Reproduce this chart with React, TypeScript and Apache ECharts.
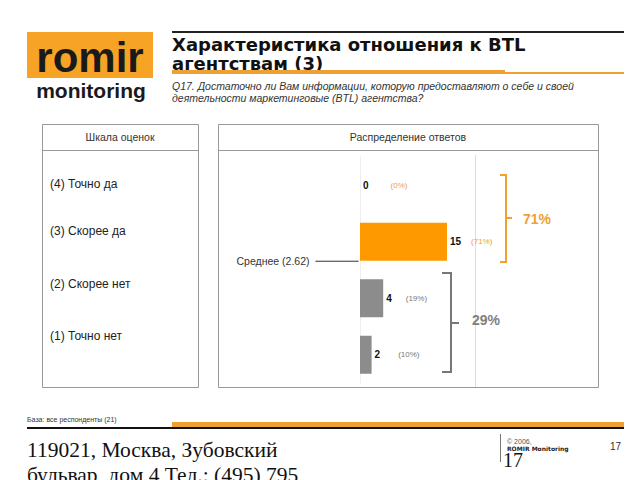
import React, { useEffect, useRef } from "react";
import * as echarts from "echarts";

const categories = ["(4) Точно да", "(3) Скорее да", "(2) Скорее нет", "(1) Точно нет"];
const counts = [0, 15, 4, 2];
const percents = [0, 71, 19, 10];
const meanValue = 2.62;
const groupTop = "71%";
const groupBottom = "29%";
const title = ["Характеристика отношения к BTL", "агентствам (3)"];
const subtitle = [
  "Q17. Достаточно ли Вам информации, которую предоставляют о себе и своей",
  "деятельности маркетинговые (BTL) агентства?",
];

const ORANGE = "#FF9900";
const LORANGE = "#F0A030";
const GRAY = "#8C8C8C";

export default function App() {
  const ref = useRef<HTMLDivElement>(null);
  useEffect(() => {
    const chart = echarts.init(ref.current!, null, { renderer: "svg" });
    const gaps = [22, 10, 14, 18];
    const sans = "Liberation Sans, Arial, sans-serif";
    const serif = "Liberation Serif, Times New Roman, serif";
    const rowY = [184, 231, 284, 336];
    const option: any = {
      animation: false,
      backgroundColor: "#fff",
      grid: [
        { left: 360, top: 157, width: 116, height: 226, show: false },
        { left: 316, top: 155, width: 42, height: 226, show: false },
      ],
      xAxis: [
        { type: "value", gridIndex: 0, min: 0, max: 20, show: false },
        { type: "value", gridIndex: 1, min: 0, max: 1, show: false },
      ],
      yAxis: [
        {
          type: "category",
          gridIndex: 0,
          inverse: true,
          data: categories,
          axisLabel: { show: false },
          axisTick: { show: false },
          axisLine: { show: true, lineStyle: { color: "#eeeeee" } },
        },
        { type: "value", gridIndex: 1, min: 0.5, max: 4.5, show: false },
      ],
      series: [
        {
          type: "bar",
          xAxisIndex: 0,
          yAxisIndex: 0,
          barWidth: 38,
          data: counts.map((v, i) => ({
            value: v,
            itemStyle: { color: i < 2 ? ORANGE : GRAY },
            label: {
              show: true,
              position: "right",
              distance: 3,
              formatter: () => `{v|${v}}{p|(${percents[i]}%)}`,
              rich: {
                v: { fontFamily: sans, fontWeight: "bold", fontSize: 10, color: "#111" },
                p: {
                  fontFamily: sans,
                  fontSize: 8,
                  color: i < 2 ? LORANGE : "#777",
                  padding: [0, 0, 0, gaps[i]],
                },
              },
            },
          })),
        },
        {
          type: "line",
          xAxisIndex: 1,
          yAxisIndex: 1,
          symbol: "circle",
          symbolSize: 1,
          lineStyle: { color: "#333", width: 1 },
          itemStyle: { color: "#333" },
          data: [
            {
              value: [0, meanValue],
              label: {
                show: true,
                position: "left",
                distance: 6,
                formatter: `Среднее (${meanValue})`,
                fontFamily: sans,
                fontSize: 10.5,
                color: "#333",
              },
            },
            { value: [1, meanValue] },
          ],
        },
      ],
      graphic: [
        // logo
        { type: "rect", shape: { x: 27, y: 32, width: 126, height: 46 }, style: { fill: "#F7A326" } },
        { type: "text", x: 90, y: 57, style: { text: "romir", fontFamily: sans, fontWeight: "bold", fontSize: 42, fill: "#1a1a1a", align: "center", verticalAlign: "middle" } },
        { type: "text", x: 91, y: 90, style: { text: "monitoring", fontFamily: sans, fontWeight: "bold", fontSize: 21, fill: "#1a1a1a", align: "center", verticalAlign: "middle" } },
        // title
        { type: "rect", shape: { x: 172, y: 31, width: 452, height: 2 }, style: { fill: "#222" } },
        { type: "text", x: 172, y: 35, style: { text: title.join("\n"), fontFamily: "DejaVu Sans, sans-serif", fontWeight: "bold", fontSize: 18, lineHeight: 19, fill: "#111", verticalAlign: "top" } },
        { type: "rect", shape: { x: 172, y: 70, width: 333, height: 4 }, style: { fill: "#F0A030" } },
        { type: "rect", shape: { x: 505, y: 72, width: 119, height: 2 }, style: { fill: "#F0A030" } },
        { type: "text", x: 172, y: 80, style: { text: subtitle.join("\n"), fontFamily: sans, fontStyle: "italic", fontSize: 10.5, lineHeight: 12, fill: "#333", verticalAlign: "top" } },
        // panels
        { type: "rect", shape: { x: 42.5, y: 124.5, width: 156, height: 263 }, style: { fill: "none", stroke: "#999", lineWidth: 1 } },
        { type: "line", shape: { x1: 42.5, y1: 150.5, x2: 198.5, y2: 150.5 }, style: { stroke: "#999", lineWidth: 1 } },
        { type: "rect", shape: { x: 218.5, y: 124.5, width: 380, height: 263 }, style: { fill: "none", stroke: "#999", lineWidth: 1 } },
        { type: "line", shape: { x1: 218.5, y1: 150.5, x2: 598.5, y2: 150.5 }, style: { stroke: "#999", lineWidth: 1 } },
        { type: "text", x: 120, y: 137, style: { text: "Шкала оценок", fontFamily: sans, fontSize: 10.5, fill: "#333", align: "center", verticalAlign: "middle" } },
        { type: "text", x: 408, y: 137, style: { text: "Распределение ответов", fontFamily: sans, fontSize: 10.5, fill: "#333", align: "center", verticalAlign: "middle" } },
        ...categories.map((c, i) => ({
          type: "text",
          x: 50,
          y: rowY[i],
          style: { text: c, fontFamily: sans, fontSize: 12, fill: "#222", verticalAlign: "middle" },
        })),
        { type: "line", shape: { x1: 475.5, y1: 155, x2: 475.5, y2: 387 }, style: { stroke: "#ddd", lineWidth: 1 } },
        // brackets
        { type: "polyline", shape: { points: [[500, 175], [506, 175], [506, 262], [500, 262]] }, style: { fill: "none", stroke: LORANGE, lineWidth: 2 } },
        { type: "line", shape: { x1: 506, y1: 218, x2: 512, y2: 218 }, style: { stroke: LORANGE, lineWidth: 2 } },
        { type: "text", x: 523, y: 219, style: { text: groupTop, fontFamily: sans, fontWeight: "bold", fontSize: 14, fill: LORANGE, verticalAlign: "middle" } },
        { type: "polyline", shape: { points: [[442, 273], [451, 273], [451, 372], [442, 372]] }, style: { fill: "none", stroke: "#777", lineWidth: 2 } },
        { type: "line", shape: { x1: 451, y1: 323, x2: 459, y2: 323 }, style: { stroke: "#777", lineWidth: 2 } },
        { type: "text", x: 472, y: 320, style: { text: groupBottom, fontFamily: sans, fontWeight: "bold", fontSize: 14, fill: "#808080", verticalAlign: "middle" } },
        // footer
        { type: "text", x: 27, y: 419, style: { text: "База: все респонденты (21)", fontFamily: sans, fontSize: 7, fill: "#333", verticalAlign: "middle" } },
        { type: "rect", shape: { x: 172, y: 422, width: 452, height: 5 }, style: { fill: "#F0A030" } },
        { type: "rect", shape: { x: 27, y: 427, width: 597, height: 2 }, style: { fill: "#111" } },
        { type: "text", x: 27, y: 437, style: { text: "119021, Москва, Зубовский\nбульвар, дом 4 Тел.: (495) 795", fontFamily: serif, fontSize: 21.5, lineHeight: 25, fill: "#111", verticalAlign: "top" } },
        { type: "line", shape: { x1: 500.5, y1: 434, x2: 500.5, y2: 462 }, style: { stroke: "#777", lineWidth: 1 } },
        { type: "text", x: 507, y: 441, style: { text: "© 2006,", fontFamily: sans, fontSize: 7, fill: "#555", verticalAlign: "middle" } },
        { type: "text", x: 507, y: 448, style: { text: "ROMIR Monitoring", fontFamily: "DejaVu Sans, sans-serif", fontWeight: "bold", fontSize: 6, fill: "#222", verticalAlign: "middle" } },
        { type: "text", x: 503, y: 460, style: { text: "17", fontFamily: serif, fontSize: 20, fill: "#111", verticalAlign: "middle" } },
        { type: "text", x: 610, y: 446, style: { text: "17", fontFamily: sans, fontSize: 10, fill: "#333", verticalAlign: "middle" } },
      ],
    };
    chart.setOption(option);
    return () => chart.dispose();
  }, []);
  return (
    <div
      ref={ref}
      style={{ position: "fixed", left: 0, top: 0, width: 640, height: 480, background: "#fff" }}
    />
  );
}
